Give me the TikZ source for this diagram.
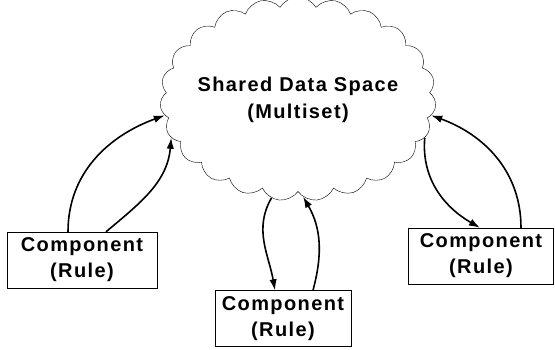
\documentclass[tikz,border=0pt]{standalone}
\usepackage{fontspec}
\newfontfamily\diagfont{Liberation Sans}[LetterSpace=7]
\usetikzlibrary{arrows.meta, shapes.symbols}

\begin{document}
\begin{tikzpicture}[x=1pt, y=-1pt, >={Latex[length=11pt,width=7.5pt]},
    comp/.style={draw, rectangle, minimum height=56pt, inner sep=0pt, align=center,
        font=\diagfont\bfseries\fontsize{20}{26}\selectfont},
    nube/.style={draw, cloud, cloud puffs=23, cloud puff arc=120, aspect=1.4,
        minimum width=276pt, minimum height=204pt, inner sep=0pt},
    texto/.style={align=center, font=\diagfont\bfseries\fontsize{20}{27}\selectfont},
    flecha/.style={->, line width=1.6pt}]
    \useasboundingbox (0,0) rectangle (555,349);
    % Definir nodos
    \node [nube] (space) at (298,99) {};
    \node [texto] (spacetext) at (298,100) {Shared Data Space\\(Multiset)};
    \node [comp, minimum width=150pt] (left) at (82,260) {Component\\(Rule)};
    \node [comp, minimum width=136pt] (bottom) at (283,318.5) {Component\\(Rule)};
    \node [comp, minimum width=145pt] (right) at (481,256) {Component\\(Rule)};

    % Flechas izquierda
    \draw[flecha] ([xshift=-14pt]left.north) to[out=90, in=200] (space.187);
    \draw[flecha] ([xshift=24pt]left.north) to[out=40, in=265] (space.197);

    % Flechas abajo
    \draw[flecha] (space.255) to[out=240, in=100] ([xshift=-8pt]bottom.north);
    \draw[flecha] ([xshift=30pt]bottom.north) to[out=75, in=300] (space.273);

    % Flechas derecha
    \draw[flecha] (space.343) to[out=265, in=150] ([xshift=-1pt]right.north);
    \draw[flecha] ([xshift=40pt]right.north) to[out=90, in=340] (space.353);
\end{tikzpicture}
\end{document}
